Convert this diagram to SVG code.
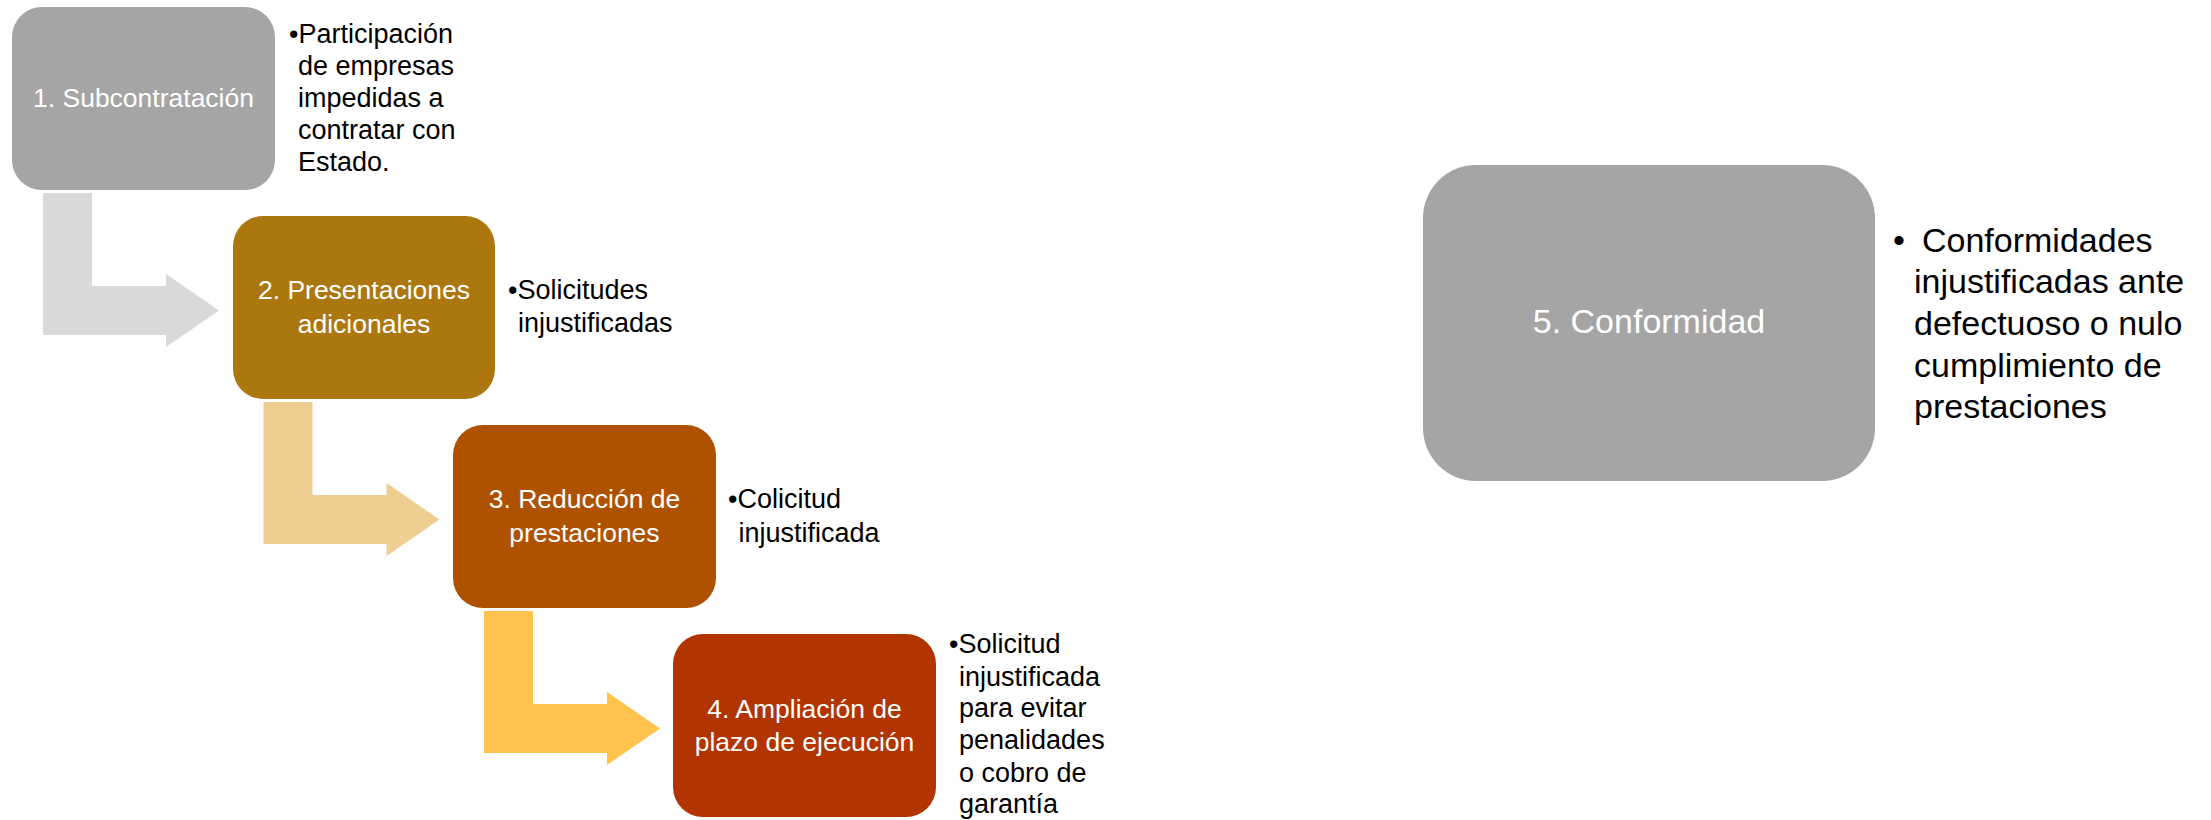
<svg xmlns="http://www.w3.org/2000/svg" width="2211" height="820" viewBox="0 0 2211 820">
<style>
.bt{font-family:"Liberation Sans",Arial,sans-serif;font-size:26.5px;fill:#FFFFFF;text-anchor:middle}
.st{font-family:"Liberation Sans",Arial,sans-serif;font-size:27px;fill:#000000}
.st5{font-family:"Liberation Sans",Arial,sans-serif;font-size:34px;fill:#000000}
</style>
<rect width="2211" height="820" fill="#FFFFFF"/>
<g id="connectors">
<path d="M43,193 H92 V286 H166 V274 L219,310.5 L166,347 V335 H43 Z" fill="#D9D9D9"/>
<path d="M263.5,402 H312.5 V495 H386.5 V483 L439.5,519.5 L386.5,556 V544 H263.5 Z" fill="#EECF91"/>
<path d="M484,611 H533 V704 H607 V692 L660,728.5 L607,765 V753 H484 Z" fill="#FFC34E"/>
</g>
<g id="node1">
<rect x="12" y="7" width="263" height="183" rx="30" fill="#A5A5A5"/>
<text class="bt" x="143.5" y="107">1. Subcontratación</text>
<text class="st"><tspan x="289" y="43">•Participación</tspan><tspan x="298" y="75">de empresas</tspan><tspan x="298" y="107">impedidas a</tspan><tspan x="298" y="139">contratar con</tspan><tspan x="298" y="171">Estado.</tspan></text>
</g>
<g id="node2">
<rect x="233" y="216" width="262" height="183" rx="30" fill="#AD7710"/>
<text class="bt"><tspan x="364" y="299">2. Presentaciones</tspan><tspan x="364" y="333">adicionales</tspan></text>
<text class="st"><tspan x="508" y="299">•Solicitudes</tspan><tspan x="518" y="332">injustificadas</tspan></text>
</g>
<g id="node3">
<rect x="453" y="425" width="263" height="183" rx="30" fill="#AE5200"/>
<text class="bt"><tspan x="584.5" y="508">3. Reducción de</tspan><tspan x="584.5" y="542">prestaciones</tspan></text>
<text class="st"><tspan x="728" y="508">•Colicitud</tspan><tspan x="738.5" y="542">injustificada</tspan></text>
</g>
<g id="node4">
<rect x="673" y="634" width="263" height="183" rx="30" fill="#B23500"/>
<text class="bt"><tspan x="804.5" y="718">4. Ampliación de</tspan><tspan x="804.5" y="751">plazo de ejecución</tspan></text>
<text class="st"><tspan x="949" y="653">•Solicitud</tspan><tspan x="959" y="686">injustificada</tspan><tspan x="959" y="717">para evitar</tspan><tspan x="959" y="749">penalidades</tspan><tspan x="959" y="782">o cobro de</tspan><tspan x="959" y="813">garantía</tspan></text>
</g>
<g id="node5">
<rect x="1423" y="165" width="452" height="316" rx="53" fill="#A5A5A5"/>
<text class="bt" style="font-size:34px" x="1649" y="333">5. Conformidad</text>
<text class="st5"><tspan x="1893" y="252">•</tspan><tspan x="1922" y="252">Conformidades</tspan><tspan x="1914" y="293">injustificadas ante</tspan><tspan x="1914" y="335">defectuoso o nulo</tspan><tspan x="1914" y="377">cumplimiento de</tspan><tspan x="1914" y="418">prestaciones</tspan></text>
</g>
</svg>
